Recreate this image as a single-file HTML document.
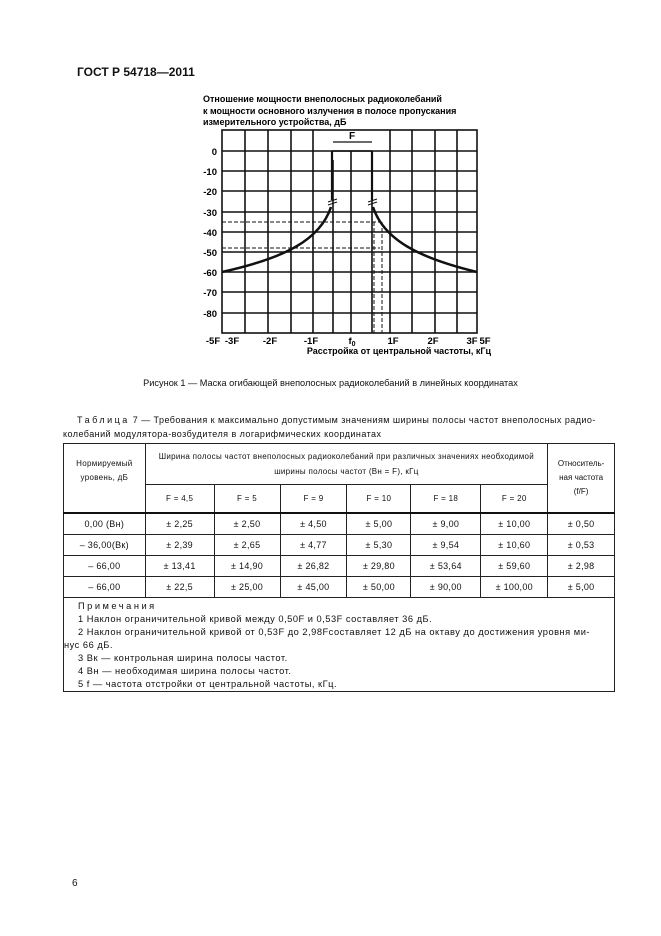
<!DOCTYPE html>
<html><head><meta charset="utf-8"><style>
body{margin:0;background:#fff;}
#p{position:relative;width:661px;height:936px;background:#fff;font-family:"Liberation Sans",sans-serif;color:#111;overflow:hidden}
.a{position:absolute;white-space:nowrap}
table{position:absolute;left:63px;top:443px;width:552px;border-collapse:collapse;font-size:9px;letter-spacing:0.3px}
td{border:1px solid #222;text-align:center;padding:0;height:20px;white-space:nowrap}
</style></head><body><div id="p">
<div class="a" style="left:77px;top:65px;font-size:12px;font-weight:bold">ГОСТ Р 54718—2011</div>

<svg class="a" style="left:0;top:0" width="661" height="380" font-family="Liberation Sans,sans-serif" font-weight="bold" font-size="9">
<text x="203" y="102">Отношение мощности внеполосных радиоколебаний</text>
<text x="203" y="114">к мощности основного излучения в полосе пропускания</text>
<text x="203" y="125">измерительного устройства, дБ</text>
<g stroke="#111" stroke-width="1.6">
<rect x="222" y="130" width="255" height="203" fill="none"/>
<line x1="245" y1="130" x2="245" y2="333"/><line x1="268" y1="130" x2="268" y2="333"/>
<line x1="291" y1="130" x2="291" y2="333"/><line x1="313" y1="130" x2="313" y2="333"/>
<line x1="333" y1="160" x2="333" y2="333"/>
<line x1="351" y1="151" x2="351" y2="333"/>
<line x1="372" y1="160" x2="372" y2="333"/>
<line x1="390" y1="130" x2="390" y2="333"/><line x1="412" y1="130" x2="412" y2="333"/>
<line x1="435" y1="130" x2="435" y2="333"/><line x1="457" y1="130" x2="457" y2="333"/>
<line x1="222" y1="151" x2="477" y2="151"/><line x1="222" y1="171" x2="477" y2="171"/>
<line x1="222" y1="191" x2="477" y2="191"/><line x1="222" y1="212" x2="477" y2="212"/>
<line x1="222" y1="232" x2="477" y2="232"/><line x1="222" y1="252" x2="477" y2="252"/>
<line x1="222" y1="272" x2="477" y2="272"/><line x1="222" y1="292" x2="477" y2="292"/>
<line x1="222" y1="313" x2="477" y2="313"/>
</g>
<g stroke="#111" stroke-width="1" stroke-dasharray="4,2" fill="none">
<line x1="222" y1="222" x2="380" y2="222"/><line x1="222" y1="248" x2="380" y2="248"/>
<line x1="374" y1="222" x2="374" y2="333"/><line x1="382" y1="222" x2="382" y2="333"/>
</g>
<g stroke="#111" fill="none">
<line x1="333" y1="142" x2="372" y2="142" stroke-width="1.2"/>
<path d="M332,151 L372,151" stroke-width="1.5"/>
<path d="M332,151 V200 M372,151 V200" stroke-width="2.2"/>
<path d="M328,202 L337,199 M328,205 L337,202 M368,202 L377,199 M368,205 L377,202" stroke-width="1"/>
<path d="M331,207 C320,240 285,258 222,272" stroke-width="2.5"/>
<path d="M373,207 C384,240 419,258 477,272" stroke-width="2.5"/>
</g>
<text x="349" y="139" font-size="10">F</text>
<g text-anchor="end" font-size="9.5">
<text x="217" y="155">0</text><text x="217" y="175">-10</text><text x="217" y="195">-20</text>
<text x="217" y="216">-30</text><text x="217" y="236">-40</text><text x="217" y="256">-50</text>
<text x="217" y="276">-60</text><text x="217" y="296">-70</text><text x="217" y="317">-80</text>
</g>
<g text-anchor="middle" font-size="9.5">
<text x="213" y="344">-5F</text><text x="232" y="344">-3F</text><text x="270" y="344">-2F</text>
<text x="311" y="344">-1F</text><text x="352" y="344">f<tspan font-size="7" dy="2">0</tspan></text>
<text x="393" y="344">1F</text><text x="433" y="344">2F</text><text x="472" y="344">3F</text><text x="485" y="344">5F</text>
</g>
<text x="491" y="354" text-anchor="end" font-size="9">Расстройка от центральной частоты, кГц</text>
</svg>

<div class="a" style="left:0;width:661px;text-align:center;top:378px;font-size:9.2px">Рисунок 1 — Маска огибающей внеполосных радиоколебаний в линейных координатах</div>
<div class="a" style="left:77px;top:415px;font-size:9px;letter-spacing:0.45px"><span style="letter-spacing:2.5px">Таблица</span> 7 — Требования к максимально допустимым значениям ширины полосы частот внеполосных радио-</div>
<div class="a" style="left:63px;top:429px;font-size:9px;letter-spacing:0.45px">колебаний модулятора-возбудителя в логарифмических координатах</div>

<table>
<colgroup><col style="width:82px"><col style="width:69px"><col style="width:66px"><col style="width:67px"><col style="width:64px"><col style="width:70px"><col style="width:67px"><col style="width:67px"></colgroup>
<tr style="height:41px"><td rowspan="2" style="font-size:8px;line-height:14px">Нормируемый<br>уровень, дБ<br>&nbsp;</td><td colspan="6" style="font-size:8px;line-height:15px">Ширина полосы частот внеполосных радиоколебаний при различных значениях необходимой<br>ширины полосы частот (Вн = F), кГц</td><td rowspan="2" style="font-size:8px;line-height:14px;letter-spacing:0">Относитель-<br>ная частота<br>(f/F)</td></tr>
<tr style="height:28px;font-size:8px"><td style="border-bottom:2px solid #111">F = 4,5</td><td style="border-bottom:2px solid #111">F = 5</td><td style="border-bottom:2px solid #111">F = 9</td><td style="border-bottom:2px solid #111">F = 10</td><td style="border-bottom:2px solid #111">F = 18</td><td style="border-bottom:2px solid #111">F = 20</td></tr>
<tr style="height:21px;border-top:2px solid #111"><td>0,00 (Вн)</td><td>± 2,25</td><td>± 2,50</td><td>± 4,50</td><td>± 5,00</td><td>± 9,00</td><td>± 10,00</td><td>± 0,50</td></tr>
<tr style="height:21px"><td>– 36,00(Вк)</td><td>± 2,39</td><td>± 2,65</td><td>± 4,77</td><td>± 5,30</td><td>± 9,54</td><td>± 10,60</td><td>± 0,53</td></tr>
<tr style="height:21px"><td>– 66,00</td><td>± 13,41</td><td>± 14,90</td><td>± 26,82</td><td>± 29,80</td><td>± 53,64</td><td>± 59,60</td><td>± 2,98</td></tr>
<tr style="height:20px"><td>– 66,00</td><td>± 22,5</td><td>± 25,00</td><td>± 45,00</td><td>± 50,00</td><td>± 90,00</td><td>± 100,00</td><td>± 5,00</td></tr>
<tr style="height:92px"><td colspan="8" style="text-align:left;font-size:9.3px;letter-spacing:0.5px;line-height:13.1px;vertical-align:top;padding-top:2px">
<div style="padding-left:14px;letter-spacing:2.5px">Примечания</div>
<div style="padding-left:14px">1 Наклон ограничительной кривой между 0,50F и 0,53F составляет 36 дБ.</div>
<div style="padding-left:14px">2 Наклон ограничительной кривой от 0,53F до 2,98Fсоставляет 12 дБ на октаву до достижения уровня ми-</div>
<div>нус 66 дБ.</div>
<div style="padding-left:14px">3 Вк — контрольная ширина полосы частот.</div>
<div style="padding-left:14px">4 Вн — необходимая ширина полосы частот.</div>
<div style="padding-left:14px">5 f — частота отстройки от центральной частоты, кГц.</div>
</td></tr>
</table>
<div class="a" style="left:72px;top:878px;font-size:10px">6</div>
</div></body></html>
